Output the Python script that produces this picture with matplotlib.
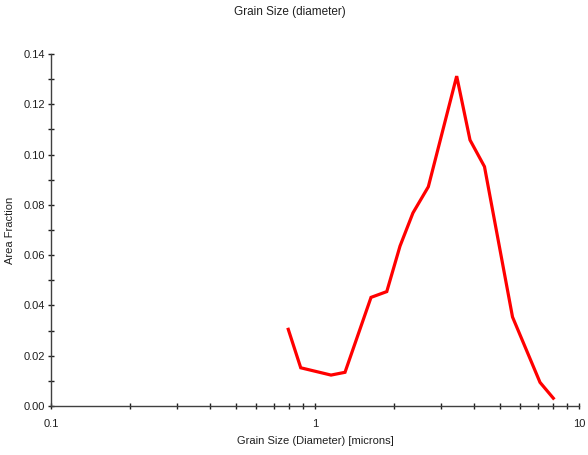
import matplotlib
matplotlib.use("Agg")
import matplotlib.pyplot as plt
from matplotlib.ticker import MultipleLocator, FixedLocator, FixedFormatter, FormatStrFormatter, LogLocator, NullFormatter

plt.rcParams['font.family'] = ['Liberation Sans', 'DejaVu Sans']

# grain size distribution (diameter in microns vs area fraction)
diameter = [0.792, 0.883, 1.150, 1.299, 1.630, 1.870, 2.099, 2.350, 2.687,
            3.441, 3.865, 4.385, 5.600, 7.117, 7.993]
area_frac = [0.0305, 0.0152, 0.0123, 0.0134, 0.0432, 0.0455, 0.0636, 0.0768, 0.0872,
             0.1312, 0.1058, 0.0952, 0.0354, 0.0094, 0.0031]

x_ticks = [0.1, 1, 10]
x_labels = ['0.1', '1', '10']

fig = plt.figure(figsize=(5.88, 4.55), dpi=100)
ax = fig.add_axes([51/588, 49/455, 528/588, 352/455])

ax.plot(diameter, area_frac, color='#ff0000', lw=2.3, solid_joinstyle='miter')

ax.set_xscale('log')
ax.set_xlim(0.1, 10)
ax.set_ylim(0, 0.14)

ax.xaxis.set_major_locator(FixedLocator(x_ticks))
ax.xaxis.set_major_formatter(FixedFormatter(x_labels))
ax.xaxis.set_minor_locator(LogLocator(base=10, subs=range(2, 10)))
ax.xaxis.set_minor_formatter(NullFormatter())
ax.yaxis.set_major_locator(MultipleLocator(0.02))
ax.yaxis.set_minor_locator(MultipleLocator(0.01))
ax.yaxis.set_major_formatter(FormatStrFormatter('%.2f'))

for s in ['top', 'right']:
    ax.spines[s].set_visible(False)
for s in ['left', 'bottom']:
    ax.spines[s].set_color('#404040')
    ax.spines[s].set_linewidth(1.0)

ax.tick_params(which='both', direction='inout', color='#202020', labelsize=8,
               labelcolor='#202020')
ax.tick_params(which='major', length=5, width=1, pad=2)
ax.tick_params(axis='x', which='major', pad=7)
ax.tick_params(which='minor', length=4, width=1)

ax.set_xlabel('Grain Size (Diameter) [microns]', fontsize=8, color='#202020', labelpad=5)
fig.text(10/588, 1 - 230/455, 'Area Fraction', rotation=90, ha='center', va='center',
         fontsize=8, color='#202020')
fig.text(0.493, 1 - 12/455, 'Grain Size (diameter)', ha='center', va='center',
         fontsize=8.5, color='#202020')

fig.savefig('out.png', dpi=100)
